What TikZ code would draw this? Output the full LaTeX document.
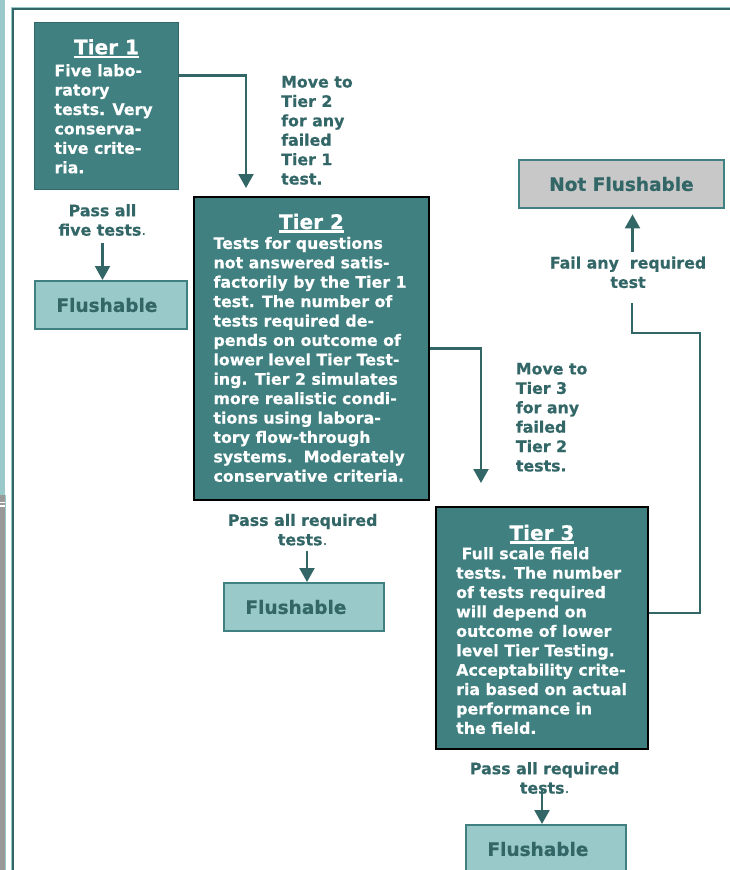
\documentclass[tikz,border=0pt]{standalone}
\usepackage{fontspec}
\setmainfont{DejaVu Sans}[BoldFeatures={FakeBold=0.6}]
\usepackage{tikz}
\usetikzlibrary{arrows.meta, positioning}
\usepackage{xcolor}
\definecolor{tierfill}{RGB}{64,128,128}
\definecolor{tealdark}{RGB}{51,102,102}
\definecolor{flushfill}{RGB}{153,201,200}
\definecolor{notfill}{RGB}{200,200,200}
\definecolor{stripgray}{RGB}{153,153,153}
\newcommand\bodyfont{\fontsize{15.8}{19.4}\selectfont\bfseries}
\newcommand\titlefont{\fontsize{20}{24}\selectfont\bfseries}
\newcommand\flushfont{\fontsize{18.5}{22}\selectfont\bfseries}
\newcommand\tierline[1]{\setbox0=\hbox{#1}\rlap{\rule[-4pt]{\wd0}{2.6pt}}\box0}

\begin{document}
\begin{tikzpicture}[
  x=1pt, y=-1pt,
  tierbox/.style={rectangle, fill=tierfill, draw=black, line width=2pt,
    inner sep=0pt, anchor=north west},
  tiertitle/.style={anchor=base, inner sep=0pt, font=\titlefont, text=white},
  tierbody/.style={anchor=north west, inner sep=0pt, align=left,
    font=\bodyfont, text=white},
  flushbox/.style={rectangle, fill=flushfill, draw=tierfill, line width=2pt,
    anchor=north west, inner ysep=0pt, inner xsep=21.5pt, align=left,
    minimum height=48pt, font=\flushfont, text=tealdark},
  notbox/.style={flushbox, fill=notfill, inner xsep=0pt, align=center},
  note/.style={inner sep=0pt, font=\bodyfont, text=tealdark},
  arr/.style={-{Triangle[length=14pt, width=15pt]}, line width=2.2pt, draw=tealdark},
  conn/.style={line width=2.2pt, draw=tealdark}
]
\useasboundingbox (0,0) rectangle (730,870);

% Slide frame
\fill[flushfill] (0,0) rectangle (4.7,495);
\fill[stripgray] (0,495) rectangle (4.7,870);
\fill[flushfill] (4.7,495) rectangle (5.7,870);
\fill[white] (0,501.7) rectangle (4.7,503.3);
\fill[white] (0,505) rectangle (4.7,507.3);
\draw[flushfill, line width=1pt] (11.8,870) |- (730,7);
\draw[tealdark, line width=2pt] (13.2,870) |- (730,8.7);

% Tier 1
\node[tierbox, draw=tealdark, line width=1pt, minimum width=144pt, minimum height=167pt] (tierone) at (34,22) {};
\node[tiertitle] (tieronetitle) at ([yshift=-32.3pt]tierone.north) {\tierline{Tier 1}};
\node[tierbody] (tieronetext) at ([xshift=20.3pt, yshift=-42pt]tierone.north west)
  {Five labo-\\ratory\\tests. Very\\conserva-\\tive crite-\\ria.};

% Tier 2
\node[tierbox, minimum width=235pt, minimum height=303pt] (tiertwo) at (193,196) {};
\node[tiertitle] (tiertwotitle) at ([yshift=-33pt]tiertwo.north) {\tierline{Tier 2}};
\node[tierbody] (tiertwotext) at ([xshift=20.3pt, yshift=-40.7pt]tiertwo.north west)
  {Tests for questions\\not answered satis-\\factorily by the Tier 1\\test. The number of\\
   tests required de-\\pends on outcome of\\lower level Tier Test-\\ing. Tier 2 simulates\\
   more realistic condi-\\tions using labora-\\tory flow-through\\systems.\ \ Moderately\\
   conservative criteria.};

% Tier 3
\node[tierbox, minimum width=212pt, minimum height=242pt] (tierthree) at (435,506) {};
\node[tiertitle] (tierthreetitle) at ([yshift=-34pt]tierthree.north) {\tierline{Tier 3}};
\node[tierbody] (tierthreetext) at ([xshift=21pt, yshift=-41pt]tierthree.north west)
  {\hspace*{5.5pt}Full scale field\\tests. The number\\of tests required\\will depend on\\
   outcome of lower\\level Tier Testing.\\Acceptability crite-\\ria based on actual\\
   performance in\\the field.};

% Outcomes
\node[flushbox, minimum width=152pt, text width=109pt] (flushone) at (34,280) {Flushable};
\node[flushbox, minimum width=160pt, text width=117pt] (flushtwo) at (223,582) {Flushable};
\node[flushbox, minimum width=160pt, text width=117pt] (flushthree) at (465,824) {Flushable};
\node[notbox, minimum width=205pt] (notflush) at (518,159) {Not Flushable};

% Labels
\node[note, anchor=north west, align=left] (movetwo) at (281,75.8)
  {Move to\\Tier 2\\for any\\failed\\Tier 1\\test.};
\node[note, anchor=north west, align=left] (movethree) at (515.7,362.7)
  {Move to\\Tier 3\\for any\\failed\\Tier 2\\tests.};
\node[note, anchor=north, align=center] (passone) at (102.5,204)
  {Pass all\\five tests{\mdseries .}};
\node[note, anchor=north, align=center] (passtwo) at (302.7,513.7)
  {Pass all required\\tests{\mdseries .}};
\node[note, anchor=north, align=center] (passthree) at (544.7,762)
  {Pass all required\\tests{\mdseries .}};
\node[note, anchor=north, align=center] (failtext) at (628,256.3)
  {Fail any\ \ required\\test};

% Arrows
\draw[arr] ([yshift=30.5pt]tierone.east) -| ([xshift=53pt, yshift=8pt]tiertwo.north west);
\draw[arr] ([yshift=-7pt]passone.south) -- (passone.south |- flushone.north);
\draw[arr] (tiertwo.east) -| ([xshift=46pt, yshift=23pt]tierthree.north west);
\draw[arr] ([xshift=3pt, yshift=31pt]flushtwo.north) -- ([xshift=3pt]flushtwo.north);
\draw[arr] ([xshift=-4pt, yshift=36pt]flushthree.north) -- ([xshift=-4pt]flushthree.north);

% Fail route
\coordinate (failcorner) at (700,333);
\draw[conn] ([yshift=14.7pt]tierthree.east) -| (failcorner) -| ([xshift=4pt, yshift=-15pt]failtext.south);
\draw[arr] ([xshift=11pt, yshift=-43pt]notflush.south) -- ([xshift=11pt, yshift=-5.4pt]notflush.south);

\end{tikzpicture}
\end{document}
